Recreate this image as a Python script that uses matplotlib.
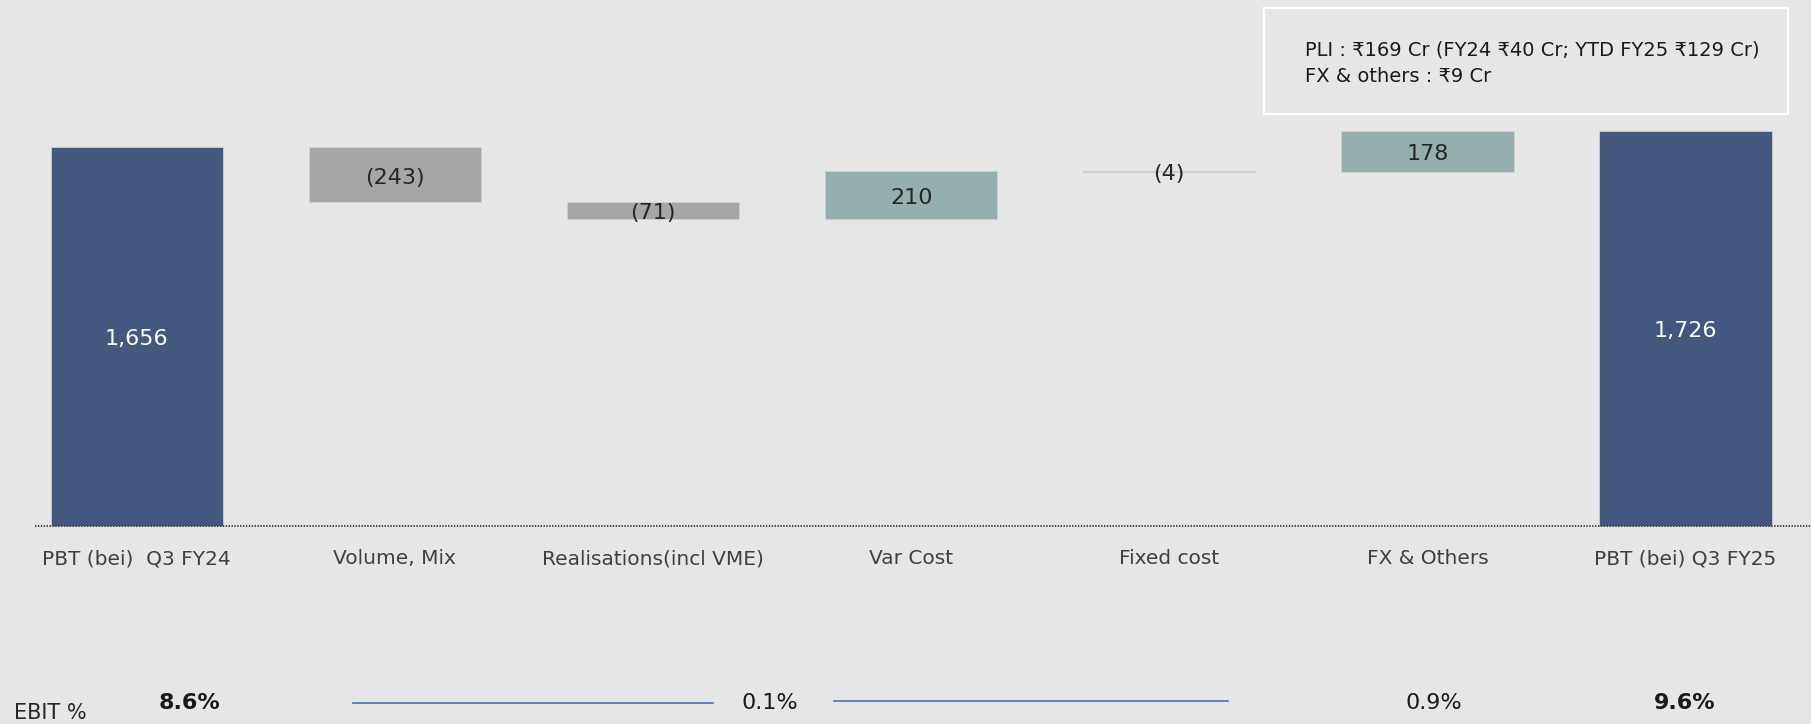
import numpy as np
import matplotlib.pyplot as plt
from matplotlib.patches import Rectangle
from matplotlib.transforms import offset_copy

categories = ["PBT (bei)  Q3 FY24", "Volume, Mix", "Realisations(incl VME)", "Var Cost",
              "Fixed cost", "FX & Others", "PBT (bei) Q3 FY25"]
start_value = 1656
deltas = [-243, -71, 210, -4, 178]
end_value = 1726

ebit_labels = ["8.6%", "0.1%", "0.9%", "9.6%"]
ebit_bold = [True, False, False, True]
note_lines = ["PLI : ₹169 Cr (FY24 ₹40 Cr; YTD FY25 ₹129 Cr)", "FX & others : ₹9 Cr"]

FONT = ["Liberation Sans Narrow", "DejaVu Sans Condensed", "DejaVu Sans"]
plt.rcParams["font.family"] = FONT

bg = "#E6E6E6"
c_total = "#44587F"
c_neg = "#A6A6A6"
c_pos = "#95AEAE"

# waterfall geometry
levels = start_value + np.cumsum([0] + deltas)
x = np.arange(len(categories))
heights = [start_value] + [abs(d) for d in deltas] + [end_value]
bottoms = [0] + [min(levels[i], levels[i + 1]) for i in range(len(deltas))] + [0]
colors = [c_total] + [c_pos if d > 0 else c_neg for d in deltas] + [c_total]
labels = [f"{start_value:,}"] + [f"({abs(d)})" if d < 0 else f"{d}" for d in deltas] + [f"{end_value:,}"]

W, H = 1811, 724
fig = plt.figure(figsize=(W / 100, H / 100), dpi=100, facecolor=bg)
ax = fig.add_axes([0, 0, 1, 1])
ax.set_facecolor(bg)
ax.set_xlim(-0.530, 6.486)
ax.set_ylim(-868, 2298)
ax.axis("off")

ax.bar(x, heights, bottom=bottoms, width=0.667, color=colors,
       edgecolor="#D0D0D0", linewidth=0.6)

# dotted baseline
ax.axhline(0, xmin=35 / W, xmax=1, color="#3a3a3a", linewidth=1.3, linestyle=(0, (0.8, 0.8)))

lab_tr = offset_copy(ax.transData, fig=fig, x=0, y=-3, units="dots")
for i in range(len(x)):
    is_total = i in (0, len(x) - 1)
    ax.text(x[i], bottoms[i] + heights[i] / 2, labels[i], ha="center", va="center",
            fontsize=16, color="white" if is_total else "#262626", transform=lab_tr)
    ax.text(x[i], -146, categories[i], ha="center", va="center", fontsize=14.5, color="#404040")

# note box
fig.patches.append(Rectangle((1264 / W, 1 - 114 / H), (1788 - 1264) / W, (114 - 8) / H,
                             transform=fig.transFigure, facecolor=bg, edgecolor="white",
                             linewidth=1.5))
for j, line in enumerate(note_lines):
    fig.text(1305 / W, 1 - (50 + 27 * j) / H, line, ha="left", va="center",
             fontsize=14, color="#1a1a1a")

# EBIT row
fig.text(14 / W, 1 - 713 / H, "EBIT %", ha="left", va="center", fontsize=15, color="#262626")
ebit_x = [189, 770, 1434, 1685]
for lab, xp, b in zip(ebit_labels, ebit_x, ebit_bold):
    fig.text(xp / W, 1 - 703 / H, lab, ha="center", va="center", fontsize=16,
             fontweight="bold" if b else "normal", color="#1a1a1a")
for x0, x1, yp in [(353, 713, 703), (834, 1228, 701)]:
    fig.add_artist(plt.Line2D([x0 / W, x1 / W], [1 - yp / H, 1 - yp / H],
                              transform=fig.transFigure, color="#4472C4", linewidth=1.2))

fig.savefig("out.png", dpi=100, facecolor=bg)
